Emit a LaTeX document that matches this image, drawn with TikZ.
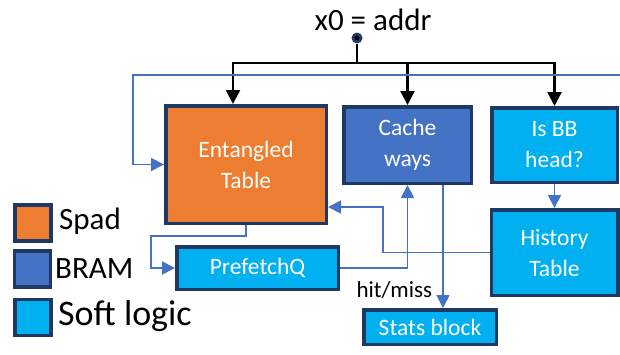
\documentclass[tikz,border=0pt]{standalone}
\usepackage{fontspec}
\setmainfont{Carlito}
\usetikzlibrary{arrows.meta}

\definecolor{spadorange}{HTML}{ED7D31}
\definecolor{bramblue}{HTML}{4472C4}
\definecolor{softblue}{HTML}{00B0F0}
\definecolor{navyedge}{HTML}{1F3864}

\tikzset{
	unit/.style={rectangle,
		draw = navyedge,
		line width = 3.5pt,
		text = white,
		align = center,
		inner sep = 0pt},
	spadbox/.style={unit, fill = spadorange},
	brambox/.style={unit, fill = bramblue},
	softbox/.style={unit, fill = softblue},
	boxtext/.style={font = \fontsize{23.5}{31}\selectfont},
	link/.style={draw = bramblue, line width = 1.8pt, -{Triangle[length=13pt,width=13pt]}},
	feed/.style={draw = black, line width = 2.4pt, -{Triangle[length=14pt,width=14pt]}}
}

\begin{document}
\begin{tikzpicture}[x=1pt, y=-1pt]
			
			\useasboundingbox (0,0) rectangle (620,354);
			
			\node[anchor = base, font = \fontsize{31}{31}\selectfont] (addr) at (373,30) {x0 = addr};
			
			\node[spadbox, boxtext,
			minimum width = 160.5,
			minimum height = 117.5] (enttab) at (246,164.5) {Entangled\\Table};
			
			\node[brambox, boxtext,
			minimum width = 127.5,
			minimum height = 76.5] (cachew) at (407.5,145) {Cache\\ways};
			
			\node[softbox, boxtext,
			minimum width = 125.5,
			minimum height = 74.5] (bbhead) at (554.5,145) {Is BB\\head?};
			
			\node[softbox, boxtext,
			minimum width = 126.5,
			minimum height = 85.5] (histtab) at (554.5,252.5) {History\\Table};
			
			\node[softbox, boxtext,
			minimum width = 161.5,
			minimum height = 42.5] (prefq) at (257.5,268) {PrefetchQ};
			
			\node[softbox, boxtext,
			minimum width = 132.5,
			minimum height = 34.5] (stats) at (430,327) {Stats block};
			
			\node[circle, fill = navyedge, minimum size = 11pt, inner sep = 0pt] (tap) at (357,38) {};
			\fill[black] (tap) circle (2.2);
			\coordinate (split) at (357,63);
			
			\draw[black, line width = 2.4pt] (tap) -- (split);
			\draw[feed] (split) -| ([xshift=-13pt]enttab.north);
			\draw[feed] (split) -| (cachew.north);
			\draw[feed] (split) -| (bbhead.north);
			
			\coordinate (rimR) at (620,75);
			\draw[link] (rimR) -| ([xshift=-31pt]enttab.west) -- (enttab.west);
			\draw[link] (enttab.south) -- ++(0,11) -| ([xshift=-24pt]prefq.west) -- (prefq.west);
			\draw[link] (prefq.east) -| (cachew.south);
			\draw[link] ([xshift=35.5pt]cachew.south) -- ([xshift=35.5pt]cachew.south |- stats.north);
			\draw[link] (histtab.west) -| ([xshift=55pt,yshift=-42.5pt]enttab.east) -- ([yshift=-42.5pt]enttab.east);
			\draw[link] (bbhead.south) -- (histtab.north);
			
			\node[anchor = base west, font = \fontsize{23}{23}\selectfont] (hitmiss) at (353,297) {hit/miss};
			
			\node[spadbox, line width = 3.5pt, minimum size = 36] (keyspad) at (33,223) {};
			\node[brambox, line width = 3.5pt, minimum size = 36] (keybram) at (32.5,269) {};
			\node[softbox, line width = 3.5pt, minimum size = 36] (keysoft) at (33,317.5) {};
			
			\node[anchor = base west, inner sep = 0pt, font = \fontsize{31}{31}\selectfont] (spadlbl) at (59,229) {Spad};
			\node[anchor = base west, inner sep = 0pt, font = \fontsize{31}{31}\selectfont] (bramlbl) at (55,278) {BRAM};
			\node[anchor = base west, inner sep = 0pt, font = \fontsize{36}{36}\selectfont] (softlbl) at (58,325) {Soft logic};
			
		\end{tikzpicture}
\end{document}
